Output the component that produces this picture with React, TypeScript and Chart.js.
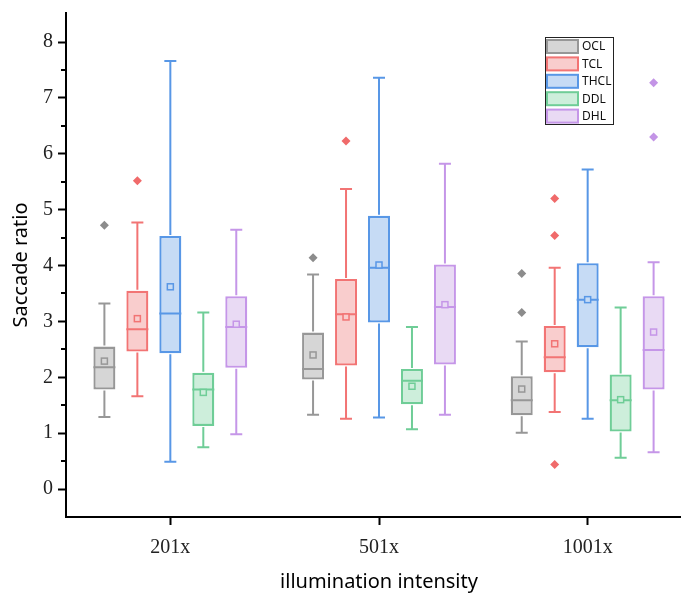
import React, { useEffect, useRef } from 'react';
import { Chart, registerables } from 'chart.js';

Chart.register(...registerables);

// ---------- data ----------
const categories = ['201x', '501x', '1001x'];
const seriesNames = ['OCL', 'TCL', 'THCL', 'DDL', 'DHL'];
// [series][category]
const lowWhisker = [
  [1.29, 1.33, 1.01],
  [1.66, 1.26, 1.38],
  [0.49, 1.28, 1.26],
  [0.75, 1.07, 0.56],
  [0.98, 1.33, 0.66],
];
const q1 = [
  [1.78, 1.96, 1.32],
  [2.46, 2.21, 2.09],
  [2.43, 2.98, 2.54],
  [1.13, 1.52, 1.03],
  [2.17, 2.23, 1.78],
];
const median = [
  [2.18, 2.15, 1.59],
  [2.86, 3.13, 2.36],
  [3.14, 3.96, 3.39],
  [1.78, 1.94, 1.59],
  [2.9, 3.26, 2.49],
];
const q3 = [
  [2.55, 2.8, 2.02],
  [3.55, 3.76, 2.92],
  [4.53, 4.89, 4.04],
  [2.08, 2.15, 2.05],
  [3.45, 4.02, 3.45],
];
const highWhisker = [
  [3.32, 3.84, 2.64],
  [4.77, 5.37, 3.96],
  [7.66, 7.36, 5.72],
  [3.16, 2.9, 3.25],
  [4.64, 5.82, 4.06],
];
const means = [
  [2.29, 2.4, 1.79],
  [3.05, 3.08, 2.6],
  [3.62, 4.01, 3.39],
  [1.73, 1.84, 1.6],
  [2.95, 3.3, 2.81],
];
const outliers = [
  [[4.72], [4.14], [3.86, 3.16]],
  [[5.52], [6.23], [5.2, 4.54, 0.44]],
  [[], [], []],
  [[], [], []],
  [[], [], [7.27, 6.3]],
];
const yMin = -0.5;
const yMax = 8.52;
const majorTickValues = [0, 1, 2, 3, 4, 5, 6, 7, 8];
const minorTickValues = [0.5, 1.5, 2.5, 3.5, 4.5, 5.5, 6.5, 7.5];

// ---------- styles ----------
const borderColors = ['#979797', '#f27474', '#5897e6', '#6fcd97', '#c596e8'];
const fillColors = ['#d6d6d6', '#f9cdcd', '#c6dbf5', '#cdeedb', '#e9daf4'];
const outlierColors = ['#8c8c8c', '#f06a6a', '#5c9ae6', '#6cc994', '#c394e6'];

const boxExtras = {
  id: 'boxExtras',
  afterDatasetsDraw(chart: any) {
    const ctx = chart.ctx;
    const ys = chart.scales.y;
    seriesNames.forEach((_, i) => {
      const meta = chart.getDatasetMeta(i);
      meta.data.forEach((bar: any, j: number) => {
        const { x, width } = bar.getProps(['x', 'width'], true);
        const yHi = ys.getPixelForValue(highWhisker[i][j]);
        const yLo = ys.getPixelForValue(lowWhisker[i][j]);
        const yQ1 = ys.getPixelForValue(q1[i][j]);
        const yQ3 = ys.getPixelForValue(q3[i][j]);
        const yMed = ys.getPixelForValue(median[i][j]);
        const yMean = ys.getPixelForValue(means[i][j]);
        const cap = 6;
        ctx.save();
        ctx.strokeStyle = borderColors[i];
        ctx.lineWidth = 2;
        ctx.beginPath();
        ctx.moveTo(x, yQ3 - 1);
        ctx.lineTo(x, yHi);
        ctx.moveTo(x - cap, yHi);
        ctx.lineTo(x + cap, yHi);
        ctx.moveTo(x, yQ1 + 1);
        ctx.lineTo(x, yLo);
        ctx.moveTo(x - cap, yLo);
        ctx.lineTo(x + cap, yLo);
        ctx.moveTo(x - width / 2, yMed);
        ctx.lineTo(x + width / 2, yMed);
        ctx.stroke();
        // mean square
        ctx.lineWidth = 1.5;
        ctx.fillStyle = fillColors[i];
        ctx.fillRect(x - 3, yMean - 3, 6, 6);
        ctx.strokeRect(x - 3, yMean - 3, 6, 6);
        // outliers
        ctx.fillStyle = outlierColors[i];
        outliers[i][j].forEach((v) => {
          const py = ys.getPixelForValue(v);
          const r = 4.5;
          ctx.beginPath();
          ctx.moveTo(x, py - r);
          ctx.lineTo(x + r, py);
          ctx.lineTo(x, py + r);
          ctx.lineTo(x - r, py);
          ctx.closePath();
          ctx.fill();
        });
        ctx.restore();
      });
    });
  },
  afterDraw(chart: any) {
    const ctx = chart.ctx;
    const ys = chart.scales.y;
    const left = chart.chartArea.left;
    ctx.save();
    // minor ticks
    ctx.strokeStyle = '#000';
    ctx.lineWidth = 2;
    ctx.beginPath();
    minorTickValues.forEach((v) => {
      const py = Math.round(ys.getPixelForValue(v));
      ctx.moveTo(left - 5, py);
      ctx.lineTo(left, py);
    });
    ctx.stroke();
    // legend
    const lx = 545.5;
    const ly = 37.5;
    const lw = 68;
    const lh = 87;
    ctx.fillStyle = '#fff';
    ctx.fillRect(lx, ly, lw, lh);
    ctx.lineWidth = 1;
    ctx.strokeStyle = '#222';
    ctx.strokeRect(lx, ly, lw, lh);
    ctx.font = '12px "Noto Sans"';
    ctx.textBaseline = 'middle';
    ctx.textAlign = 'left';
    seriesNames.forEach((name, i) => {
      const cy = 46.5 + i * 17.4;
      ctx.fillStyle = fillColors[i];
      ctx.fillRect(547, cy - 6.5, 31, 13);
      ctx.lineWidth = 2;
      ctx.strokeStyle = borderColors[i];
      ctx.strokeRect(547, cy - 6.5, 31, 13);
      ctx.fillStyle = '#111';
      ctx.fillText(name, 582, cy + 0.5);
    });
    ctx.restore();
  },
};

export default function App() {
  const canvasRef = useRef<HTMLCanvasElement | null>(null);

  useEffect(() => {
    document.body.style.margin = '0';
    document.body.style.overflow = 'hidden';
    const canvas = canvasRef.current;
    if (!canvas) return;
    const chart = new Chart(canvas, {
      type: 'bar',
      data: {
        labels: categories,
        datasets: seriesNames.map((name, i) => ({
          label: name,
          data: q1[i].map((v, j) => [v, q3[i][j]]),
          backgroundColor: fillColors[i],
          borderColor: borderColors[i],
          borderWidth: 2.3,
          borderSkipped: false,
          categoryPercentage: 0.79,
          barPercentage: 0.667,
        })) as any,
      },
      options: {
        responsive: false,
        maintainAspectRatio: false,
        animation: false,
        devicePixelRatio: 1,
        layout: { padding: { top: 13, right: 0, left: 0, bottom: 0 } },
        plugins: {
          legend: { display: false },
          tooltip: { enabled: false },
        },
        scales: {
          x: {
            type: 'category',
            offset: true,
            afterFit: (scale: any) => {
              scale.height = 76;
              scale.paddingLeft = 0;
              scale.paddingRight = 0;
            },
            grid: {
              display: true,
              offset: false,
              drawOnChartArea: false,
              drawTicks: true,
              tickLength: 8,
              tickWidth: 2,
              tickColor: '#000',
            },
            border: { display: true, color: '#000', width: 2 },
            ticks: {
              color: '#222',
              padding: 11,
              font: { family: '"Liberation Serif", serif', size: 20 },
            },
            title: {
              display: true,
              text: 'illumination intensity',
              color: '#000',
              font: { family: '"Noto Sans", sans-serif', size: 20 },
              padding: { top: 0, bottom: -1 },
            },
          },
          y: {
            type: 'linear',
            min: yMin,
            max: yMax,
            afterFit: (scale: any) => {
              scale.width = 66;
              scale.paddingTop = 0;
              scale.paddingBottom = 0;
            },
            afterBuildTicks: (scale: any) => {
              scale.ticks = majorTickValues.map((v) => ({ value: v }));
            },
            grid: {
              display: true,
              drawOnChartArea: false,
              drawTicks: true,
              tickLength: 8,
              tickWidth: 2,
              tickColor: '#000',
            },
            border: { display: true, color: '#000', width: 2 },
            ticks: {
              color: '#222',
              padding: 5,
              font: { family: '"Liberation Serif", serif', size: 20 },
              callback: (v: any) => String(v),
            },
            title: {
              display: true,
              text: 'Saccade ratio',
              color: '#000',
              font: { family: '"Noto Sans", sans-serif', size: 20 },
              padding: { top: 9, bottom: 0 },
            },
          },
        },
      },
      plugins: [boxExtras],
    });
    return () => chart.destroy();
  }, []);

  return (
    <div style={{ width: 681, height: 593, overflow: 'hidden', position: 'relative' }}>
      <canvas ref={canvasRef} width={692} height={593} style={{ display: 'block' }} />
    </div>
  );
}
